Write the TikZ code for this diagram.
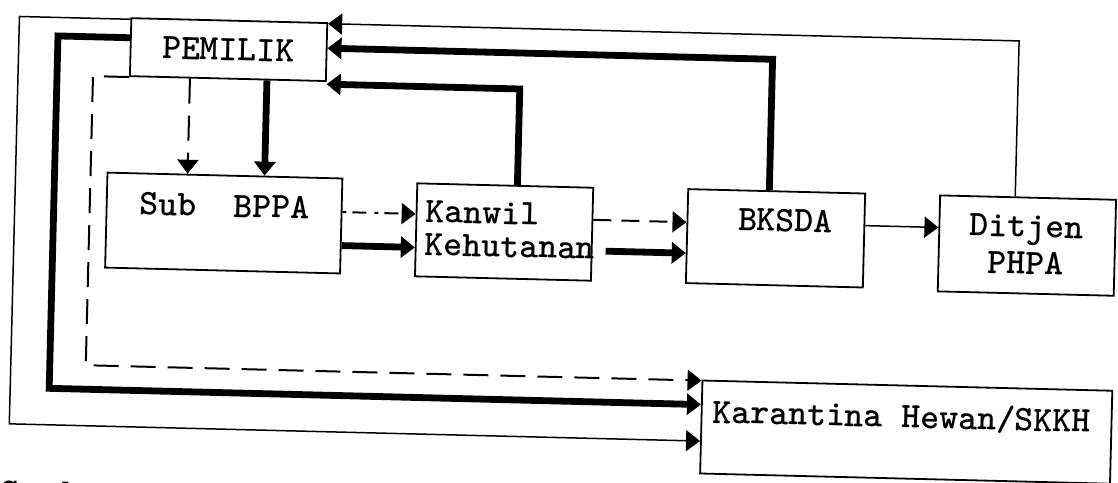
\documentclass[tikz,border=0pt]{standalone}
\usetikzlibrary{arrows.meta,calc}
\tikzset{
  box/.style={draw, line width=1.8pt, inner sep=0pt, anchor=north west},
  lbl/.style={inner sep=0pt, font=\ttfamily\bfseries\fontsize{36}{33}\selectfont},
  tip/.style={-{Triangle[length=14pt,width=21pt]}},
  thinln/.style={line width=1.5pt, tip},
  thickln/.style={line width=6.8pt, tip, line join=miter},
  dashln/.style={line width=2pt, dash pattern=on 25pt off 12pt, tip},
}
\begin{document}
\begin{tikzpicture}[x=1pt,y=-1pt]
\useasboundingbox (0,0) rectangle (1118,482);
\clip (0,0) rectangle (1118,482);
\begin{scope}[transform canvas={rotate around={-1.43:(559,241)}}]
% boxes
\node[box, lbl, minimum width=196pt, minimum height=58pt] (pem) at (125,28) {PEMILIK};
\node[box, minimum width=235pt, minimum height=95pt] (sub) at (105,183) {};
\node[lbl, anchor=north] (subt) at (224,202.5) {Sub\ \ BPPA};
\node[box, minimum width=176pt, minimum height=93pt] (kan) at (415,186) {};
\node[lbl, anchor=north west, align=left] (kant) at (425,203.3) {Kanwil\\Kehutanan};
\node[box, minimum width=177pt, minimum height=94pt] (bks) at (686,185) {};
\node[lbl, anchor=north] (bkst) at (785,203.4) {BKSDA};
\node[box, minimum width=176pt, minimum height=96pt] (dit) at (938,185) {};
\node[lbl, anchor=north, align=center, font=\ttfamily\bfseries\fontsize{36}{37}\selectfont] (ditt) at (1026,203.4) {Ditjen\\PHPA};
\node[box, minimum width=410pt, minimum height=93pt] (kar) at (705,376) {};
\node[lbl, anchor=north west] (kart) at (717,394) {Karantina Hewan/SKKH};
\node[lbl, anchor=base west, font=\ttfamily\bfseries\fontsize{40}{40}\selectfont] (capt) at (5,519) {Gamb. 3. P};
% loops from PEMILIK to Karantina
\draw[thinln] (pem.west |- 0,30) -| (14,437.5) -- (kar.west |- 0,437.5);
\draw[thickln] (pem.west |- 0,48.5) -| (53,401) -- (kar.west |- 0,401);
\draw[dashln] (pem.south west) -| (89,377) -- (kar.west |- 0,377);
% PEMILIK to Sub BPPA
\draw[dashln] (pem.south -| 186,0) -- (sub.north -| 186,0);
\draw[thickln] (pem.south -| 263,0) -- (sub.north -| 263,0);
% returns to PEMILIK
\draw[thickln] (kan.north -| 516,0) |- (pem.east |- 0,90);
\draw[thickln] (bks.north -| 768,0) |- (pem.east |- 0,54);
\draw[thinln] (dit.north -| 1014,0) |- (pem.east |- 0,29.5);
% chain
\draw[dashln, dash pattern=on 4pt off 6pt on 14pt off 8pt] (sub.east |- 0,217.5) -- (kan.west |- 0,217.5);
\draw[thickln] (sub.east |- 0,251) -- (kan.west |- 0,251);
\draw[dashln, dash pattern=on 18pt off 10pt] (kan.east |- 0,219) -- (bks.west |- 0,219);
\draw[thickln] ($(kan.east |- 0,250)+(13,0)$) -- (bks.west |- 0,250);
\draw[thinln] (bks.east |- 0,218) -- (dit.west |- 0,218);
\end{scope}
\end{tikzpicture}
\end{document}
